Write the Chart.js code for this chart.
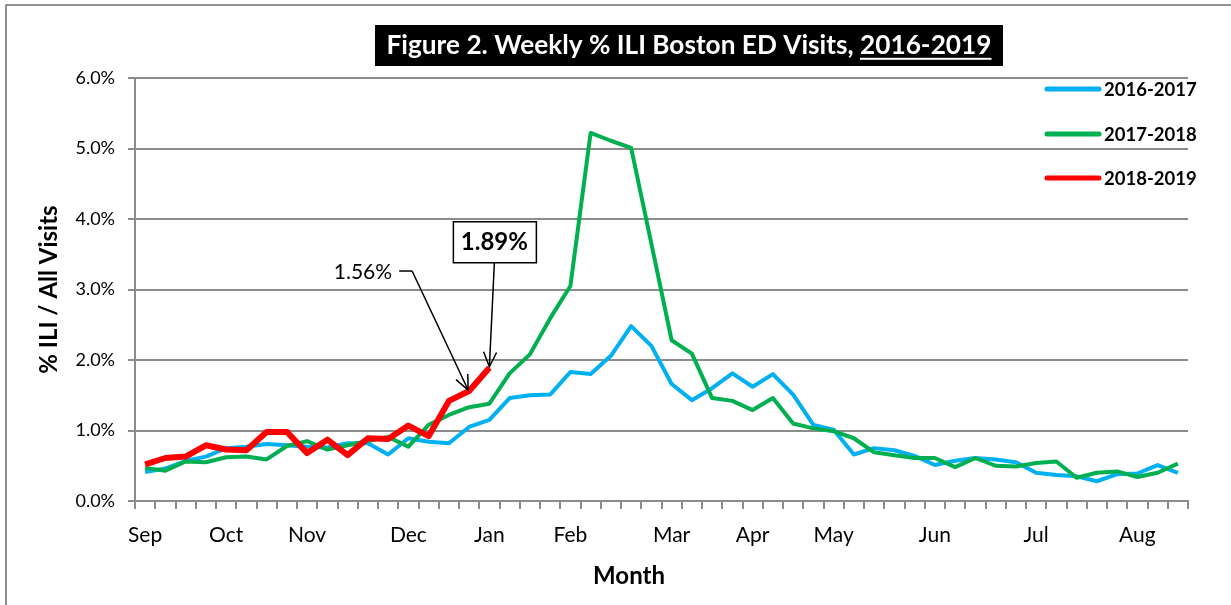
<!DOCTYPE html>
<html>
<head>
<meta charset="utf-8">
<script src="https://cdn.jsdelivr.net/npm/chart.js@4/dist/chart.umd.min.js"></script>
<style>
  html, body { margin: 0; padding: 0; background: #fff; }
  #wrap { width: 1231px; height: 605px; position: relative; }
</style>
</head>
<body>
<div id="wrap"><canvas id="c" width="1231" height="605"></canvas></div>
<script>
// ---- data ----
const weekLabels = ['Sep','','','','Oct','','','','Nov','','','','','Dec','','','','Jan','','','','Feb','','','','','Mar','','','','Apr','','','','May','','','','','Jun','','','','','Jul','','','','','Aug','',''];
const seriesNames = ['2016-2017', '2017-2018', '2018-2019'];
const ili2016 = [0.41,0.46,0.57,0.63,0.75,0.77,0.81,0.79,0.77,0.76,0.82,0.82,0.66,0.89,0.84,0.82,1.05,1.15,1.46,1.50,1.51,1.83,1.80,2.06,2.48,2.20,1.66,1.43,1.60,1.81,1.62,1.80,1.51,1.08,1.01,0.66,0.75,0.72,0.64,0.51,0.57,0.61,0.59,0.55,0.40,0.37,0.35,0.28,0.38,0.39,0.51,0.40];
const ili2017 = [0.47,0.43,0.56,0.55,0.62,0.63,0.59,0.78,0.85,0.73,0.79,0.85,0.91,0.77,1.08,1.22,1.33,1.38,1.81,2.08,2.59,3.05,5.22,5.11,5.01,3.65,2.28,2.09,1.46,1.42,1.29,1.46,1.10,1.03,0.99,0.89,0.69,0.65,0.61,0.61,0.48,0.61,0.50,0.49,0.54,0.56,0.33,0.40,0.42,0.34,0.40,0.53];
const ili2018 = [0.52,0.61,0.63,0.79,0.73,0.72,0.98,0.98,0.68,0.87,0.65,0.89,0.88,1.07,0.92,1.42,1.56,1.89];
const yTicks = [0,1,2,3,4,5,6];
const titleMain = 'Figure 2. Weekly % ILI Boston ED Visits, ';
const titleYears = '2016-2019';
const xTitle = 'Month';
const yTitle = '% ILI / All Visits';
const calloutIdx = [16, 17];

const FONT = 'Lato, "Open Sans", sans-serif';
const GRID = '#8c8c8c';

function arrow(ctx, x1, y1, x2, y2) {
  ctx.beginPath(); ctx.moveTo(x1, y1); ctx.lineTo(x2, y2); ctx.stroke();
  const a = Math.atan2(y2 - y1, x2 - x1), L = 16, h = 0.42;
  ctx.beginPath();
  ctx.moveTo(x2 - L * Math.cos(a - h), y2 - L * Math.sin(a - h));
  ctx.lineTo(x2, y2);
  ctx.lineTo(x2 - L * Math.cos(a + h), y2 - L * Math.sin(a + h));
  ctx.stroke();
}

const decor = {
  id: 'decor',
  beforeDraw(chart) {
    const ctx = chart.ctx;
    ctx.save();
    ctx.fillStyle = '#fff';
    ctx.fillRect(0, 0, chart.width, chart.height);
    ctx.strokeStyle = '#6e6e6e';
    ctx.lineWidth = 1.5;
    ctx.beginPath(); ctx.moveTo(6, chart.height + 5); ctx.lineTo(6, 5); ctx.lineTo(chart.width + 5, 5); ctx.stroke();
    ctx.restore();
  },
  afterDraw(chart) {
    const ctx = chart.ctx;
    ctx.save();
    // title box
    ctx.fillStyle = '#000';
    ctx.fillRect(375, 25, 628, 41);
    let fs = 24;
    ctx.font = 'bold ' + fs + 'px ' + FONT;
    const w0 = ctx.measureText(titleMain + titleYears).width;
    fs = fs * 605 / w0;
    ctx.font = 'bold ' + fs + 'px ' + FONT;
    const wA = ctx.measureText(titleMain).width, wB = ctx.measureText(titleYears).width;
    const tx = 689 - (wA + wB) / 2, ty = 46;
    ctx.fillStyle = '#fff'; ctx.textBaseline = 'middle'; ctx.textAlign = 'left';
    ctx.fillText(titleMain, tx, ty);
    ctx.fillText(titleYears, tx + wA, ty);
    ctx.fillRect(tx + wA, ty + fs * 0.45, wB, 2);

    // x axis title
    ctx.fillStyle = '#000'; ctx.textAlign = 'center';
    ctx.font = 'bold 24px ' + FONT;
    ctx.fillText(xTitle, 629, 576);

    // legend
    ctx.font = 'bold 18.5px ' + FONT;
    ctx.textAlign = 'left';
    const ly = [89, 134, 178];
    chart.data.datasets.forEach((ds, i) => {
      ctx.strokeStyle = ds.borderColor; ctx.lineWidth = 5; ctx.lineCap = 'round';
      ctx.beginPath(); ctx.moveTo(1047, ly[i]); ctx.lineTo(1099, ly[i]); ctx.stroke();
      ctx.fillStyle = '#000';
      ctx.fillText(ds.label, 1104, ly[i] + 1);
    });
    ctx.lineCap = 'butt';

    // callouts
    const meta = chart.getDatasetMeta(2);
    const p1 = meta.data[calloutIdx[0]], p2 = meta.data[calloutIdx[1]];
    const v1 = ili2018[calloutIdx[0]], v2 = ili2018[calloutIdx[1]];
    ctx.strokeStyle = '#000'; ctx.lineWidth = 1.5; ctx.fillStyle = '#000';
    // 1.56%
    ctx.font = '21px ' + FONT; ctx.textAlign = 'right';
    ctx.fillText(v1.toFixed(2) + '%', p1.x - 77, p1.y - 119);
    ctx.beginPath(); ctx.moveTo(p1.x - 70, p1.y - 120); ctx.lineTo(p1.x - 57, p1.y - 120); ctx.stroke();
    arrow(ctx, p1.x - 57, p1.y - 120, p1.x - 1, p1.y - 1);
    // 1.89%
    const bx = p2.x + 5, by = p2.y - 126;
    ctx.fillStyle = '#fff';
    ctx.fillRect(bx - 41, by - 20, 83, 41);
    ctx.strokeRect(bx - 41, by - 20, 83, 41);
    ctx.fillStyle = '#000'; ctx.font = 'bold 24px ' + FONT; ctx.textAlign = 'center';
    ctx.fillText(v2.toFixed(2) + '%', bx, by + 1);
    arrow(ctx, bx, by + 21, p2.x, p2.y - 1);
    ctx.restore();
  }
};

new Chart(document.getElementById('c'), {
  type: 'line',
  data: {
    labels: weekLabels,
    datasets: [
      { label: seriesNames[0], data: ili2016, borderColor: '#00b0f0', borderWidth: 4, order: 3 },
      { label: seriesNames[1], data: ili2017, borderColor: '#00b050', borderWidth: 4, order: 2 },
      { label: seriesNames[2], data: ili2018, borderColor: '#ff0000', borderWidth: 6, order: 1 }
    ]
  },
  options: {
    responsive: false,
    animation: false,
    devicePixelRatio: 1,
    elements: { point: { radius: 0 }, line: { tension: 0, borderJoinStyle: 'round' } },
    layout: { padding: { top: 78, right: 43, left: 0, bottom: 0 } },
    plugins: { legend: { display: false }, tooltip: { enabled: false }, title: { display: false } },
    scales: {
      x: {
        type: 'category',
        offset: true,
        afterFit: s => { s.height = 104; },
        grid: { offset: true, drawOnChartArea: false, drawTicks: true, tickLength: 8, color: GRID, lineWidth: 2 },
        border: { display: true, color: GRID, width: 2 },
        ticks: { autoSkip: false, maxRotation: 0, minRotation: 0, padding: 14, color: '#000', font: { family: FONT, size: 21 } },
        title: { display: false, text: xTitle }
      },
      y: {
        min: 0, max: 6,
        afterFit: s => { s.width = 135; },
        afterBuildTicks: s => { s.ticks = yTicks.map(v => ({ value: v })); },
        grid: { color: GRID, lineWidth: 2, tickLength: 7 },
        border: { display: true, color: GRID, width: 2 },
        ticks: { padding: 13, color: '#000', font: { family: FONT, size: 18 }, callback: v => v.toFixed(1) + '%' },
        title: { display: true, text: yTitle, color: '#000', font: { family: FONT, size: 24, weight: 'bold' }, padding: { top: 35, bottom: 0 } }
      }
    }
  },
  plugins: [decor]
});
</script>
</body>
</html>
